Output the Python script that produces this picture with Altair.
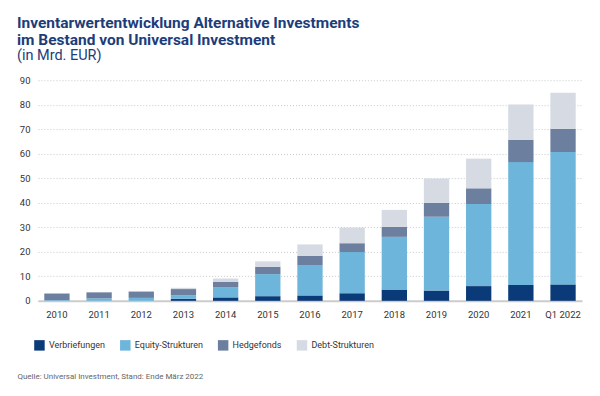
import altair as alt
import pandas as pd

years = ["2010", "2011", "2012", "2013", "2014", "2015", "2016", "2017", "2018", "2019", "2020", "2021", "Q1 2022"]
series = ["Verbriefungen", "Equity-Strukturen", "Hedgefonds", "Debt-Strukturen"]
verbriefungen = [0.0, 0.0, 0.0, 0.8, 1.4, 1.9, 2.2, 3.1, 4.6, 4.2, 6.0, 6.5, 6.7]
equity = [0.3, 1.0, 1.2, 1.5, 4.2, 9.0, 12.2, 16.8, 21.5, 30.1, 33.5, 50.1, 54.0]
hedge = [2.7, 2.5, 2.6, 2.5, 2.2, 3.0, 4.0, 3.6, 4.1, 5.7, 6.4, 9.1, 9.5]
debt = [0.1, 0.1, 0.1, 0.5, 1.3, 2.2, 4.6, 6.4, 6.9, 9.9, 12.1, 14.4, 14.7]
colors = ["#0b3a78", "#6db5da", "#6c7f9f", "#d5dae3"]

rows = []
for s_i, (name, vals) in enumerate(zip(series, [verbriefungen, equity, hedge, debt])):
    for y, v in zip(years, vals):
        rows.append({"Jahr": y, "Kategorie": name, "Wert": v, "ord": s_i})
df = pd.DataFrame(rows)

FONT = "Roboto"

chart = alt.Chart(df).mark_bar().encode(
    x=alt.X("Jahr:N", sort=years,
            scale=alt.Scale(paddingInner=0.4, paddingOuter=0.15),
            axis=alt.Axis(title="Quelle: Universal Investment, Stand: Ende März 2022",
                          titleAnchor="start", titleAlign="left", titleX=-21, titleY=78,
                          titleBaseline="alphabetic", titleFontSize=8, titleFontWeight="normal",
                          titleColor="#666666", titleFont=FONT,
                          labelAngle=0, labelFontSize=9.5, labelColor="#333333", labelFont=FONT,
                          labelPadding=9, ticks=False, domainColor="#cccccc", domainWidth=2,
                          grid=False)),
    y=alt.Y("Wert:Q", stack="zero",
            scale=alt.Scale(domain=[0, 90], nice=False),
            axis=alt.Axis(title=None, values=list(range(0, 100, 10)), labelFontSize=9.5,
                          labelColor="#333333", labelFont=FONT, labelPadding=8,
                          ticks=False, domain=False, gridColor="#c8c8c8",
                          gridDash=[1, 2], gridWidth=1)),
    color=alt.Color("Kategorie:N", sort=series,
                    scale=alt.Scale(domain=series, range=colors),
                    legend=alt.Legend(title=None, orient="none", legendX=-4, legendY=260,
                                      direction="horizontal", symbolType="square",
                                      symbolSize=110, symbolStrokeWidth=0,
                                      labelFontSize=9, labelFont=FONT, labelColor="#333333",
                                      labelOffset=4, columnPadding=14)),
    order=alt.Order("ord:Q", sort="ascending"),
).properties(
    width=545,
    height=221,
    title=alt.TitleParams(
        text=["Inventarwertentwicklung Alternative Investments", "im Bestand von Universal Investment"],
        subtitle="(in Mrd. EUR)",
        anchor="start", frame="group", dx=-21, font=FONT, fontSize=15.5, fontWeight="bold",
        color="#1c3d7a", subtitleColor="#1c3d7a", subtitleFont=FONT, subtitleFontSize=14.5,
        subtitleFontWeight="normal", lineHeight=17, subtitlePadding=0, offset=13,
    ),
    autosize=alt.AutoSizeParams(type="none"),
    padding={"left": 30, "top": 72, "right": 10, "bottom": 90},
).configure_view(stroke=None)

chart.save("out.html", embed_options={"renderer": "svg", "actions": False})
